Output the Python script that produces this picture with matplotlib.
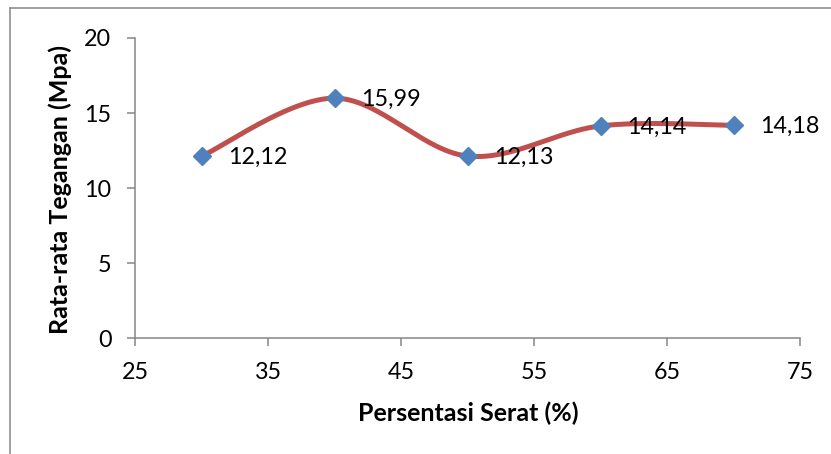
import numpy as np
import matplotlib
matplotlib.use("Agg")
import matplotlib.pyplot as plt
from matplotlib.lines import Line2D

plt.rcParams['font.family'] = ['Lato', 'DejaVu Sans']

# Data
serat = [30, 40, 50, 60, 70]
tegangan = [12.12, 15.99, 12.13, 14.14, 14.18]
labels = ["12,12", "15,99", "12,13", "14,14", "14,18"]
x_ticks = [25, 35, 45, 55, 65, 75]
y_ticks = [0, 5, 10, 15, 20]

LINE_COLOR = "#C0504D"
MARKER_COLOR = "#4F81BD"
AXIS_COLOR = "#868686"

W, H = 831, 454


def smooth_curve(xs, ys, n=60):
    """Bezier smoothing through the points (Catmull-Rom style control points)."""
    pts = np.column_stack([xs, ys]).astype(float)
    ext = np.vstack([pts[0], pts, pts[-1]])
    out = []
    t = np.linspace(0, 1, n)[:, None]
    for i in range(len(pts) - 1):
        p0, p3 = ext[i + 1], ext[i + 2]
        c1 = p0 + (ext[i + 2] - ext[i]) / 6.0
        c2 = p3 - (ext[i + 3] - ext[i + 1]) / 6.0
        seg = ((1 - t) ** 3) * p0 + 3 * ((1 - t) ** 2) * t * c1 \
            + 3 * (1 - t) * t ** 2 * c2 + t ** 3 * p3
        out.append(seg if i == 0 else seg[1:])
    out = np.vstack(out)
    return out[:, 0], out[:, 1]


fig = plt.figure(figsize=(W / 100, H / 100), dpi=100)
ax = fig.add_axes([0.1625, 0.2555, 0.8002, 0.6608])

sx, sy = smooth_curve(serat, tegangan)
ax.plot(sx, sy, color=LINE_COLOR, lw=3.6, solid_capstyle="round", zorder=2)
ax.plot(serat, tegangan, linestyle="none", marker="D", markersize=9.2,
        markerfacecolor=MARKER_COLOR, markeredgecolor=MARKER_COLOR, zorder=3)

for xv, yv, lab in zip(serat, tegangan, labels):
    ax.annotate(lab, (xv, yv), xytext=(19, -1), textcoords="offset points",
                ha="left", va="center", fontsize=16.8, color="black", zorder=4)

ax.set_xlim(25, 75)
ax.set_ylim(0, 20)
ax.set_xticks(x_ticks)
ax.set_yticks(y_ticks)

for side in ("top", "right"):
    ax.spines[side].set_visible(False)
for side in ("left", "bottom"):
    ax.spines[side].set_color(AXIS_COLOR)
    ax.spines[side].set_linewidth(1.1)

ax.tick_params(axis="both", direction="out", length=6, width=1.1,
               color=AXIS_COLOR, labelsize=16.8, pad=11)

fig.text(468 / W, 1 - 413 / H, "Persentasi Serat (%)", fontsize=18,
         fontweight="bold", ha="center", va="center")
fig.text(60 / W, 1 - 190 / H, "Rata-rata Tegangan (Mpa)", fontsize=18,
         fontweight="bold", ha="center", va="center", rotation=90)

# Chart area border (left and top edges)
fig.add_artist(Line2D([9.5 / W, 9.5 / W], [0, 1 - 7.5 / H],
                      transform=fig.transFigure, color=AXIS_COLOR, lw=1.1))
fig.add_artist(Line2D([9.5 / W, 1], [1 - 7.5 / H, 1 - 7.5 / H],
                      transform=fig.transFigure, color=AXIS_COLOR, lw=1.1))

fig.savefig("out.png", dpi=100)
